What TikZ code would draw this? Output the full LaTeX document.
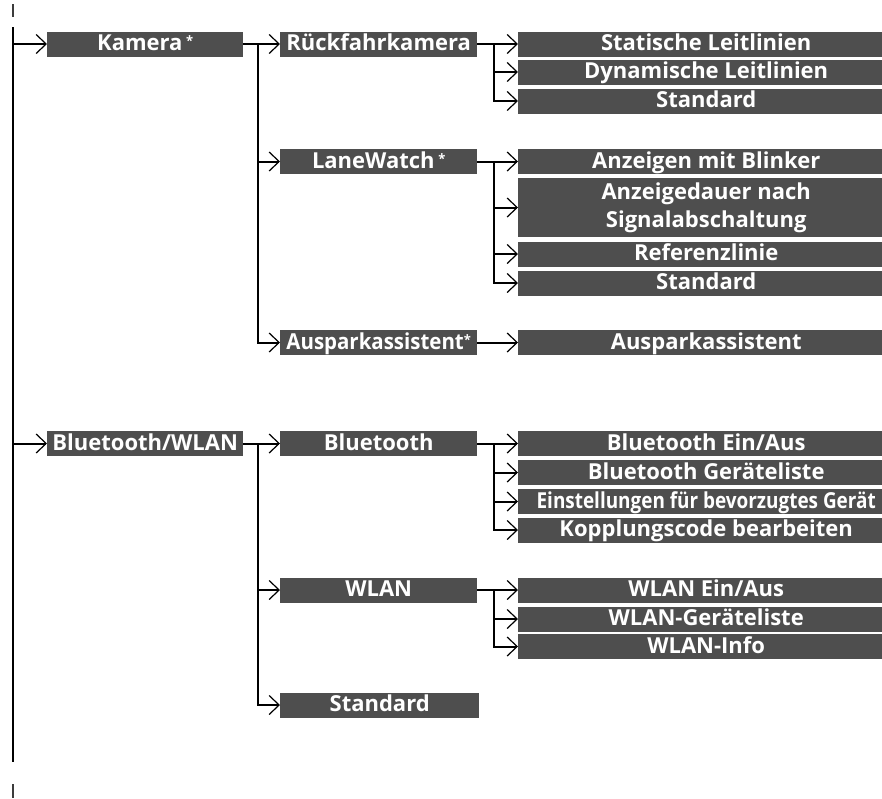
\documentclass[tikz,border=0pt]{standalone}
\usepackage{fontspec}
\setmainfont{Open Sans}
\usetikzlibrary{arrows.meta, positioning}
\definecolor{menugray}{RGB}{78,78,78}
\definecolor{markgray}{RGB}{60,60,60}
\newcommand{\optmark}{\,\raisebox{5pt}{\fontsize{13}{13}\selectfont *}}
\tikzset{
  menubox/.style={rectangle, fill=menugray, text=white, anchor=west,
    font=\fontsize{22}{28}\selectfont\bfseries, minimum height=25pt,
    inner xsep=5pt, inner ysep=0pt, text height=17pt, text depth=4pt},
  topbox/.style={menubox, minimum width=196pt},
  midbox/.style={menubox, minimum width=197pt},
  leafbox/.style={menubox, minimum width=376pt, inner xsep=9pt},
  trunk/.style={line width=2pt},
  branch/.style={line width=2pt,
    -{Straight Barb[length=10pt, width=19pt, line width=1.2pt]}},
}
\begin{document}
\begin{tikzpicture}[x=1pt, y=-1pt]
  \useasboundingbox (0,0) rectangle (882,798);
  \clip (0,0) rectangle (882,798);

  % level 1
  \node[topbox] (kamera) at (47,44) {Kamera\optmark};
  \node[topbox] (btwlan) at (47,443.5) {Bluetooth/WLAN};

  % level 2
  \node[midbox] (rueck) at (280,44) {Rückfahrkamera};
  \node[midbox] (lane) at (280,161.5) {LaneWatch\optmark};
  \node[midbox, inner xsep=4pt] (auspark) at (280,342.5)
    {\scalebox{0.93}[1]{Ausparkassistent}\raisebox{5pt}{\fontsize{13}{13}\selectfont *}};
  \node[midbox] (bt) at (280,443.5) {Bluetooth};
  \node[midbox] (wlan) at (280,590) {WLAN};
  \node[midbox, minimum width=199pt] (btstd) at (280,705) {Standard};

  % level 3
  \node[leafbox] (statisch) at (518,44) {Statische Leitlinien};
  \node[leafbox] (dynamisch) at (518,72) {Dynamische Leitlinien};
  \node[leafbox] (rstd) at (518,101) {Standard};

  \node[leafbox] (blinker) at (518,161.5) {Anzeigen mit Blinker};
  \node[leafbox, minimum height=59pt, align=center,
        text height={}, text depth={}] (dauer) at (518,207.5)
    {Anzeigedauer nach\\Signalabschaltung};
  \node[leafbox] (refl) at (518,254) {Referenzlinie};
  \node[leafbox] (lstd) at (518,283) {Standard};

  \node[leafbox] (ausparkleaf) at (518,342.5) {Ausparkassistent};

  \node[leafbox] (btonoff) at (518,443.5) {Bluetooth Ein/Aus};
  \node[leafbox] (btlist) at (518,472.5) {Bluetooth Geräteliste};
  \node[leafbox, inner xsep=8pt] (btpref) at (518,501.5)
    {\scalebox{0.86}[1]{Einstellungen für bevorzugtes Gerät}};
  \node[leafbox] (btcode) at (518,530) {Kopplungscode bearbeiten};

  \node[leafbox] (wlonoff) at (518,590) {WLAN Ein/Aus};
  \node[leafbox] (wllist) at (518,619) {WLAN-Geräteliste};
  \node[leafbox] (wlinfo) at (518,646.5) {WLAN-Info};

  % page marks and main trunk
  \coordinate (marktop) at (13,4);
  \coordinate (markbot) at (13,784);
  \draw[markgray, line width=2pt] (marktop) -- ++(0,13);
  \draw[markgray, line width=2pt] (markbot) -- ++(0,14);
  \coordinate (trunktop) at (13,27);
  \coordinate (trunkend) at (13,762);
  \draw[trunk] (trunktop) -- (trunkend);
  \draw[branch] (trunktop |- kamera.west) -- (kamera.west);
  \draw[branch] (trunktop |- btwlan.west) -- (btwlan.west);

  % Kamera
  \coordinate (kfork) at ([xshift=15pt]kamera.east);
  \draw[branch] (kamera.east) -- (rueck.west);
  \draw[branch] (kfork) |- (lane.west);
  \draw[branch] (kfork) |- (auspark.west);

  \coordinate (rfork) at ([xshift=17pt]rueck.east);
  \draw[branch] (rueck.east) -- (statisch.west);
  \draw[branch] (rfork) |- (dynamisch.west);
  \draw[branch] (rfork) |- (rstd.west);

  \coordinate (lfork) at ([xshift=17pt]lane.east);
  \draw[branch] (lane.east) -- (blinker.west);
  \draw[branch] (lfork) |- (dauer.west);
  \draw[branch] (lfork) |- (refl.west);
  \draw[branch] (lfork) |- (lstd.west);

  \draw[branch] (auspark.east) -- (ausparkleaf.west);

  % Bluetooth/WLAN
  \coordinate (bfork) at ([xshift=15pt]btwlan.east);
  \draw[branch] (btwlan.east) -- (bt.west);
  \draw[branch] (bfork) |- (wlan.west);
  \draw[branch] (bfork) |- (btstd.west);

  \coordinate (btfork) at ([xshift=17pt]bt.east);
  \draw[branch] (bt.east) -- (btonoff.west);
  \draw[branch] (btfork) |- (btlist.west);
  \draw[branch] (btfork) |- (btpref.west);
  \draw[branch] (btfork) |- (btcode.west);

  \coordinate (wfork) at ([xshift=17pt]wlan.east);
  \draw[branch] (wlan.east) -- (wlonoff.west);
  \draw[branch] (wfork) |- (wllist.west);
  \draw[branch] (wfork) |- (wlinfo.west);
\end{tikzpicture}
\end{document}
